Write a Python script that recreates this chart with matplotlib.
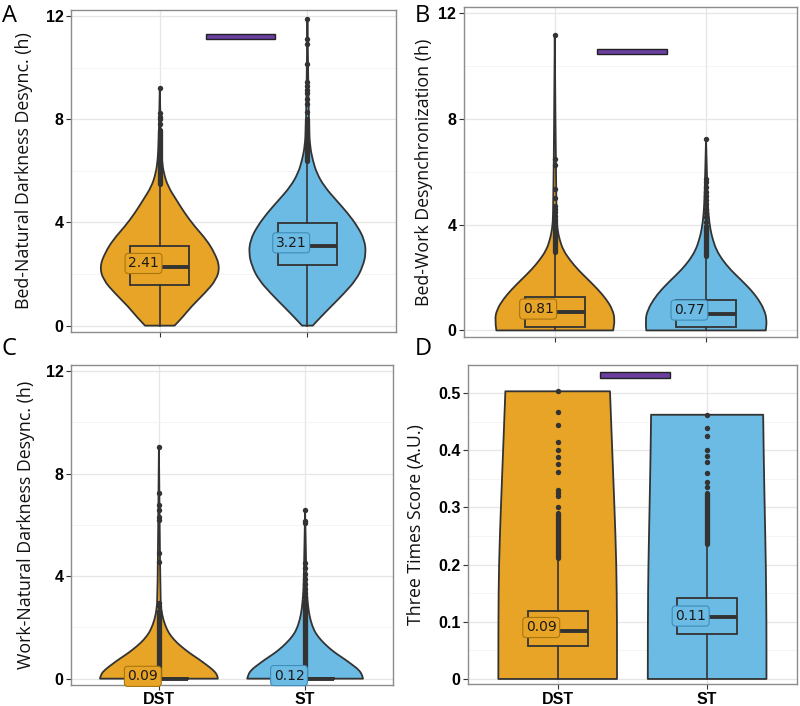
import matplotlib
matplotlib.use("Agg")
from matplotlib import pyplot as plt
from matplotlib.patches import Rectangle, PathPatch
from matplotlib.path import Path
from matplotlib.ticker import MultipleLocator

groups = ["DST", "ST"]
fill_colors = ["#E8A426", "#6BBBE4"]
label_edges = ["#A8760F", "#3E8DBA"]
sig_color = "#6B3FA0"
ink = "#333333"

# ---- Panel A: Bed-Natural Darkness Desync.
a_dst_vy = [0, 0.35, 0.74, 1.26, 1.78, 2.29, 2.81, 3.33, 3.84, 4.36, 4.87, 5.39, 5.91, 6.42, 7.19, 9.2]
a_dst_vw = [0.10, 0.158, 0.214, 0.305, 0.384, 0.406, 0.372, 0.316, 0.237, 0.169, 0.113, 0.056, 0.027, 0.014, 0.007, 0.0]
a_st_vy = [0, 0.35, 0.74, 1.26, 1.78, 2.29, 2.81, 3.33, 3.84, 4.36, 4.87, 5.39, 5.91, 6.42, 6.94, 7.7, 11.85]
a_st_vw = [0.036, 0.093, 0.16, 0.25, 0.33, 0.375, 0.397, 0.386, 0.34, 0.273, 0.194, 0.115, 0.063, 0.036, 0.018, 0.009, 0.0]
a_box = [[0, 1.56, 2.29, 3.10, 5.41], [0, 2.36, 3.09, 3.97, 6.38]]  # lo, q1, median, q3, hi
a_dense = [[5.5, 7.6], [6.4, 8.0]]
a_out = [[7.8, 8.0, 8.1, 8.25, 9.2],
         [8.3, 8.6, 8.8, 9.0, 9.15, 9.3, 9.45, 10.16, 10.93, 11.12, 11.87]]
a_mean = [2.41, 3.21]
a_sig = [1.31, 1.78, 11.10, 11.30]

# ---- Panel B: Bed-Work Desynchronization
b_dst_vy = [0, 0.41, 0.79, 1.17, 1.54, 1.92, 2.29, 2.67, 3.05, 3.42, 3.8, 4.42, 11.2]
b_dst_vw = [0.386, 0.397, 0.382, 0.342, 0.287, 0.221, 0.155, 0.099, 0.055, 0.033, 0.018, 0.009, 0.0]
b_st_vy = [0, 0.41, 0.79, 1.17, 1.54, 1.92, 2.29, 2.67, 3.05, 3.42, 3.8, 4.42, 5.17, 7.25]
b_st_vw = [0.395, 0.402, 0.384, 0.347, 0.296, 0.23, 0.163, 0.108, 0.068, 0.046, 0.029, 0.015, 0.009, 0.0]
b_box = [[0, 0.12, 0.69, 1.25, 2.95], [0, 0.12, 0.64, 1.17, 2.75]]
b_dense = [[2.95, 4.2], [2.8, 3.95]]
b_out = [[4.35, 4.5, 4.6, 4.7, 5.0, 5.35, 6.28, 6.49, 11.2],
         [4.1, 4.3, 4.45, 4.6, 4.8, 4.95, 5.1, 5.25, 5.43, 5.61, 5.74, 7.24]]
b_mean = [0.81, 0.77]
b_sig = [1.28, 1.745, 10.46, 10.67]

# ---- Panel C: Work-Natural Darkness Desync.
c_dst_vy = [0, 0.16, 0.35, 0.55, 0.74, 0.94, 1.13, 1.39, 1.65, 1.91, 2.3, 2.69, 3.21, 9.05]
c_dst_vw = [0.403, 0.398, 0.369, 0.323, 0.278, 0.225, 0.18, 0.125, 0.084, 0.055, 0.03, 0.016, 0.009, 0.0]
c_st_vy = [0, 0.16, 0.35, 0.55, 0.74, 0.94, 1.13, 1.39, 1.65, 1.91, 2.3, 2.69, 3.21, 3.73, 6.58]
c_st_vw = [0.396, 0.389, 0.367, 0.321, 0.276, 0.223, 0.178, 0.128, 0.087, 0.059, 0.036, 0.023, 0.014, 0.009, 0.0]
c_box = [[0, 0, 0.0, 0.015, 0.04], [0, 0, 0.0, 0.02, 0.05]]
c_dense = [[0.05, 2.65], [0.05, 3.05]]
c_out = [[2.82, 2.95, 4.57, 4.9, 6.2, 6.3, 6.58, 6.78, 7.23, 9.05],
         [3.2, 3.35, 3.5, 3.7, 3.9, 4.1, 4.3, 4.5, 6.07, 6.17, 6.58]]
c_mean = [0.09, 0.12]

# ---- Panel D: Three Times Score
d_dst_vy = [0, 0.1, 0.2, 0.3, 0.4, 0.503]
d_dst_vw = [0.397, 0.397, 0.393, 0.38, 0.365, 0.35]
d_st_vy = [0, 0.1, 0.2, 0.3, 0.4, 0.462]
d_st_vw = [0.397, 0.397, 0.393, 0.385, 0.378, 0.375]
d_box = [[0, 0.058, 0.0845, 0.119, 0.21], [0, 0.079, 0.108, 0.142, 0.236]]
d_dense = [[0.212, 0.29], [0.236, 0.325]]
d_out = [[0.30, 0.32, 0.325, 0.33, 0.362, 0.376, 0.389, 0.40, 0.415, 0.444, 0.467, 0.503],
         [0.336, 0.345, 0.36, 0.38, 0.39, 0.40, 0.424, 0.438, 0.462]]
d_mean = [0.09, 0.11]
d_sig = [1.283, 1.751, 0.526, 0.537]

panels = [
    dict(letter="A", rect=[0.089, 0.530, 0.406, 0.456], ylabel="Bed-Natural Darkness Desync. (h)",
         vy=[a_dst_vy, a_st_vy], vw=[a_dst_vw, a_st_vw], box=a_box, dense=a_dense, out=a_out,
         mean=a_mean, sig=a_sig, ylim=(-0.24, 12.24), major=4, minor=2, xlabels=False,
         fmt="{:.0f}", lab_x=-0.117, letter_xy=(0.002, 0.994)),
    dict(letter="B", rect=[0.580, 0.523, 0.416, 0.467], ylabel="Bed-Work Desynchronization (h)",
         vy=[b_dst_vy, b_st_vy], vw=[b_dst_vw, b_st_vw], box=b_box, dense=b_dense, out=b_out,
         mean=b_mean, sig=b_sig, ylim=(-0.24, 12.24), major=4, minor=2, xlabels=False,
         fmt="{:.0f}", lab_x=-0.093, letter_xy=(0.519, 0.994)),
    dict(letter="C", rect=[0.089, 0.030, 0.402, 0.453], ylabel="Work-Natural Darkness Desync. (h)",
         vy=[c_dst_vy, c_st_vy], vw=[c_dst_vw, c_st_vw], box=c_box, dense=c_dense, out=c_out,
         mean=c_mean, sig=None, ylim=(-0.24, 12.24), major=4, minor=2, xlabels=True,
         fmt="{:.0f}", lab_x=-0.112, letter_xy=(0.002, 0.522)),
    dict(letter="D", rect=[0.585, 0.031, 0.411, 0.452], ylabel="Three Times Score (A.U.)",
         vy=[d_dst_vy, d_st_vy], vw=[d_dst_vw, d_st_vw], box=d_box, dense=d_dense, out=d_out,
         mean=d_mean, sig=d_sig, ylim=(-0.009, 0.549), major=0.1, minor=0.05, xlabels=True,
         fmt="{:.1f}", lab_x=-0.131, letter_xy=(0.519, 0.522)),
]


def side_path(pts, first):
    # smooth outline through the read points using quadratic bezier segments
    verts = [pts[0]]
    codes = [Path.MOVETO if first else Path.LINETO]
    for k in range(1, len(pts) - 1):
        mid = ((pts[k][0] + pts[k + 1][0]) / 2, (pts[k][1] + pts[k + 1][1]) / 2)
        verts += [pts[k], mid]
        codes += [Path.CURVE3, Path.CURVE3]
    verts.append(pts[-1])
    codes.append(Path.LINETO)
    return verts, codes


def violin_patch(pos, vy, vw, color):
    left = [(pos - w, y) for y, w in zip(vy, vw)]
    right = [(pos + w, y) for y, w in zip(vy, vw)][::-1]
    v1, c1 = side_path(left, True)
    v2, c2 = side_path(right, False)
    verts = v1 + v2 + [left[0]]
    codes = c1 + c2 + [Path.CLOSEPOLY]
    return PathPatch(Path(verts, codes), facecolor=color, edgecolor=ink, linewidth=1.3,
                     joinstyle="round", zorder=2)


fig = plt.figure(figsize=(8.0, 7.06), dpi=100)

for p in panels:
    ax = fig.add_axes(p["rect"])
    ax.set_xlim(0.4, 2.6)
    ax.set_ylim(*p["ylim"])
    ax.yaxis.set_major_locator(MultipleLocator(p["major"]))
    ax.yaxis.set_minor_locator(MultipleLocator(p["minor"]))
    ax.set_xticks([1, 2])
    ax.grid(which="major", color="#e6e6e6", lw=0.9, zorder=0)
    ax.grid(which="minor", axis="y", color="#f2f2f2", lw=0.6, zorder=0)
    ax.set_axisbelow(True)

    for i in range(2):
        pos = i + 1
        ax.add_patch(violin_patch(pos, p["vy"][i], p["vw"][i], fill_colors[i]))

        lo, q1, med, q3, hi = p["box"][i]
        ax.plot([pos, pos], [lo, q1], color=ink, lw=1.2, zorder=3)
        ax.plot([pos, pos], [q3, hi], color=ink, lw=1.2, zorder=3)
        ax.add_patch(Rectangle((pos - 0.2, q1), 0.4, q3 - q1, facecolor="none",
                               edgecolor=ink, lw=1.3, zorder=3))
        ax.plot([pos - 0.2, pos + 0.2], [med, med], color=ink, lw=2.8,
                solid_capstyle="butt", zorder=3)

        d0, d1 = p["dense"][i]
        ax.plot([pos, pos], [d0, d1], color=ink, lw=3.8, solid_capstyle="round", zorder=4)
        ax.plot([pos] * len(p["out"][i]), p["out"][i], "o", color=ink, ms=3.9, mew=0, zorder=4)

        ax.text(pos - 0.11, p["mean"][i], "{:.2f}".format(p["mean"][i]), ha="center", va="center",
                fontsize=10, color="#1a1a1a", zorder=6,
                bbox=dict(boxstyle="round,pad=0.22,rounding_size=0.25", facecolor=fill_colors[i],
                          edgecolor=label_edges[i], linewidth=0.8))

    if p["sig"] is not None:
        x0, x1, y0, y1 = p["sig"]
        ax.add_patch(Rectangle((x0, y0), x1 - x0, y1 - y0, facecolor=sig_color,
                               edgecolor="#222222", lw=1.0, zorder=5))

    ticks = [t for t in ax.get_yticks() if p["ylim"][0] <= t <= p["ylim"][1]]
    ax.set_yticks(ticks)
    ax.set_yticklabels(["0" if abs(t) < 1e-9 else p["fmt"].format(t) for t in ticks])
    if p["xlabels"]:
        ax.set_xticklabels(groups)
    else:
        ax.set_xticklabels([])
    for lab in ax.get_yticklabels() + ax.get_xticklabels():
        lab.set_fontfamily("Liberation Sans")
        lab.set_fontweight("bold")
        lab.set_color("black")
    ax.tick_params(axis="y", labelsize=11.5, length=3.5, width=0.8, color=ink, pad=2)
    ax.tick_params(axis="x", labelsize=11.5, length=3.5, width=0.8, color=ink, pad=2)
    ax.tick_params(which="minor", length=0)
    for s in ax.spines.values():
        s.set_color("#8c8c8c")
        s.set_linewidth(1.0)

    ax.set_ylabel(p["ylabel"], fontsize=12.8, fontfamily="Open Sans", color="#111111")
    ax.yaxis.set_label_coords(p["lab_x"], 0.5)
    fig.text(p["letter_xy"][0], p["letter_xy"][1], p["letter"], fontsize=17,
             fontfamily="Open Sans", va="top", ha="left")

fig.savefig("out.png", dpi=100)
